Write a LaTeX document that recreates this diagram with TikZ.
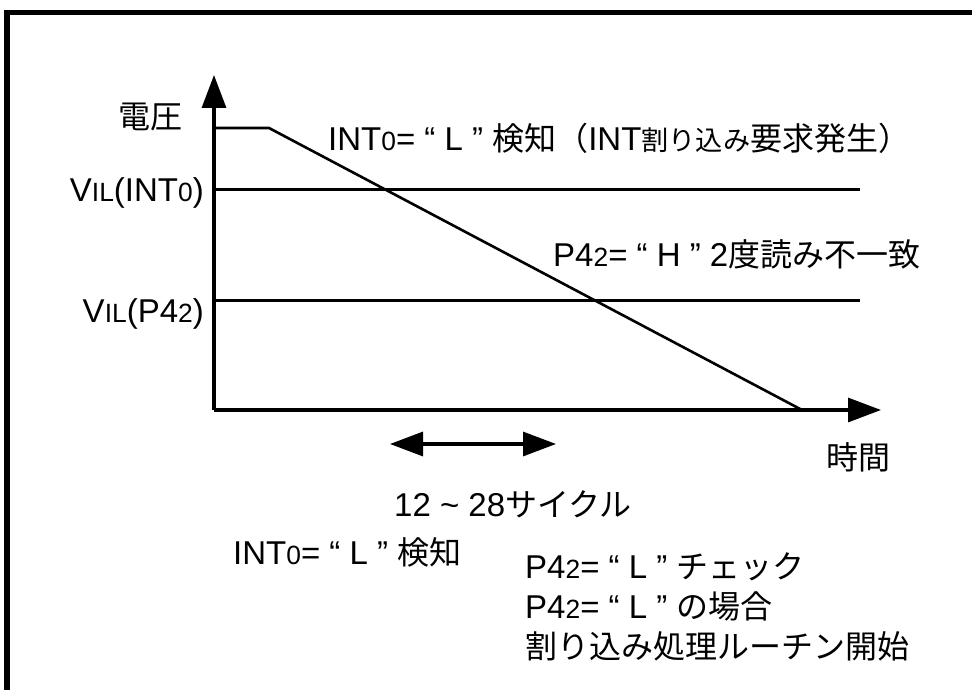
\documentclass[tikz,border=0pt]{standalone}
\usepackage{fontspec}
\setmainfont{Liberation Sans}
\newfontfamily\jpfont{Noto Sans CJK JP}
\usetikzlibrary{arrows.meta}
\newcommand\J[1]{{\jpfont\fontsize{32}{38}\selectfont #1}}
\newcommand\sm[1]{\scalebox{0.8}{#1}}
\tikzset{
  lbl/.style={inner sep=0pt, font=\fontsize{33}{39}\selectfont},
  axis/.style={line width=3.2pt, -{Triangle[length=33pt,width=24pt]}},
  guide/.style={line width=3pt},
  ramp/.style={line width=2.6pt, line join=miter},
  span/.style={line width=3.2pt, {Triangle[length=33pt,width=24pt]}-{Triangle[length=33pt,width=24pt]}},
  frame/.style={line width=5.5pt, line join=miter}
}
\begin{document}
\begin{tikzpicture}[x=1pt,y=-1pt]
\useasboundingbox (0,0) rectangle (972,690);
% frame (top and left edges)
\coordinate (fbl) at (7,700);
\coordinate (ftl) at (7,12.5);
\coordinate (ftr) at (980,12.5);
\draw[frame] (fbl) -- (ftl) -- (ftr);
% axes
\coordinate (O) at (214,410);
\coordinate (ytip) at (214,75);
\coordinate (xtip) at (881,410);
\draw[axis] (O) -- (ytip);
\draw[axis] (O) -- (xtip);
% guide levels
\coordinate (g1a) at (214,189);
\coordinate (g1b) at (860,189);
\coordinate (g2a) at (214,300);
\coordinate (g2b) at (860,300);
\draw[guide] (g1a) -- (g1b);
\draw[guide] (g2a) -- (g2b);
% voltage ramp
\coordinate (r0) at (214,128);
\coordinate (r1) at (269,128);
\coordinate (r2) at (802,410);
\draw[ramp] (r0) -- (r1) -- (r2);
% cycle span arrow
\coordinate (s0) at (390,444);
\coordinate (s1) at (556,444);
\draw[span] (s0) -- (s1);
% labels
\node[lbl, anchor=base west] (volt) at (118,129) {\J{電圧}};
\node[lbl, anchor=base east] (vil1) at (204,201) {V\sm{IL}(INT\sm{0})};
\node[lbl, anchor=base east] (vil2) at (204,322) {V\sm{IL}(P4\sm{2})};
\node[lbl, anchor=base west] (t1) at (328,150) {INT\sm{0}= “ L ” \J{検知（}INT\J{\scalebox{0.85}{割り込み}要求発生）}};
\node[lbl, anchor=base west] (t2) at (553,266) {P4\sm{2}= “ H ” 2\J{度読み不一致}};
\node[lbl, anchor=base west] (time) at (826,469) {\J{時間}};
\node[lbl, anchor=base west] (cyc) at (394,516) {12 \textasciitilde{} 28\J{サイクル}};
\node[lbl, anchor=base west] (b1) at (233,564) {INT\sm{0}= “ L ” \J{検知}};
\node[lbl, anchor=base west] (b2) at (525,578) {P4\sm{2}= “ L ” \J{チェック}};
\node[lbl, anchor=base west] (b3) at (525,618) {P4\sm{2}= “ L ” \J{の場合}};
\node[lbl, anchor=base west] (b4) at (525,658) {\J{割り込み処理ルーチン開始}};
\end{tikzpicture}
\end{document}
